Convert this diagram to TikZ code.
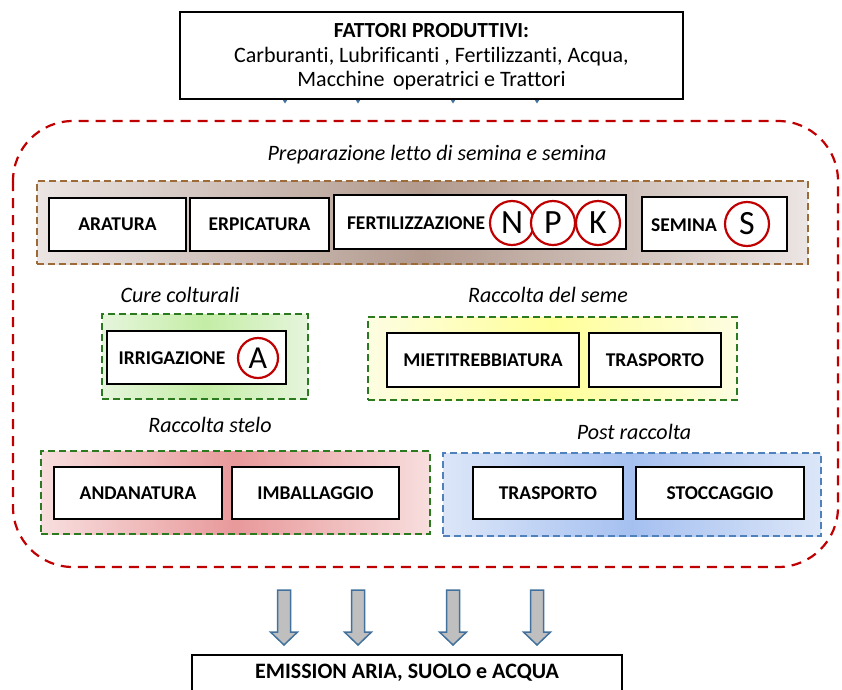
\documentclass[tikz,border=0pt]{standalone}
\usepackage{fontspec}
\setmainfont[Ligatures={NoCommon}]{Carlito}
\begin{document}
\begin{tikzpicture}[x=1pt,y=-1pt,
  box/.style={draw=black,line width=2.5pt,fill=white,inner sep=0pt,
    font=\bfseries\fontsize{19.5}{21}\selectfont},
  boxtxt/.style={inner sep=0pt,font=\bfseries\fontsize{19.5}{21}\selectfont},
  nut/.style={circle,draw=redc,line width=2.2pt,fill=white,inner sep=0pt,
    minimum size=44pt,font=\fontsize{34}{34}\selectfont},
  grp/.style={line width=1.8pt,inner sep=0pt,dash pattern=on 7pt off 4pt},
  phase/.style={font=\itshape\fontsize{22}{24}\selectfont,inner sep=0pt},
  barrow/.style={fill=arrfill,draw=arrline,line width=1.5pt},
]
\definecolor{redc}{HTML}{C00000}
\definecolor{brownb}{HTML}{9C6B37}
\definecolor{browne}{HTML}{EBE5E3}
\definecolor{brownc}{HTML}{B29A8E}
\definecolor{greenb}{HTML}{2B7A1F}
\definecolor{greene}{HTML}{E6F5DC}
\definecolor{greenc}{HTML}{C4EDA6}
\definecolor{yele}{HTML}{FDFDE2}
\definecolor{yelc}{HTML}{FFFF99}
\definecolor{pinke}{HTML}{F8DEDE}
\definecolor{pinkc}{HTML}{E8999A}
\definecolor{blueb}{HTML}{4F81BD}
\definecolor{bluee}{HTML}{DCE6F8}
\definecolor{bluec}{HTML}{A5C0F0}
\definecolor{arrfill}{HTML}{BFBFBF}
\definecolor{arrline}{HTML}{41719C}
\useasboundingbox (0,0) rectangle (842,689);

% small tips under the top box
\foreach \cx in {285,358,453,537}
  \fill[arrline] (\cx-3.5,98) -- (\cx+3.5,98) -- (\cx,103.5) -- cycle;

% top box
\node[box,minimum width=503pt,minimum height=87pt] (fattori) at (431.5,55.5) {};
\node[inner sep=0pt,align=center,font=\fontsize{22}{24.5}\selectfont] (fattoriT) at (431.5,57)
  {{\fontsize{21.5}{24.5}\selectfont\textbf{FATTORI PRODUTTIVI:}}\\Carburanti, Lubrificanti , Fertilizzanti, Acqua,\\Macchine\, operatrici e Trattori};

% big red dashed area
\draw[redc,line width=2.2pt,dash pattern=on 10pt off 7pt,rounded corners=60pt] (13,121) rectangle (838,567);

% phase labels
\node[phase] (lprep) at (437,155) {Preparazione letto di semina e semina};
\node[phase] (lcure) at (180,295) {Cure colturali};
\node[phase] (lseme) at (548,295) {Raccolta del seme};
\node[phase] (lstelo) at (210,425) {Raccolta stelo};
\node[phase] (lpost) at (634,432) {Post raccolta};

% group boxes
\node[grp,draw=brownb,left color=browne,right color=browne,middle color=brownc,
  minimum width=771pt,minimum height=83pt] (gprep) at (422.5,222.5) {};
\node[grp,draw=greenb,left color=greene,right color=greene,middle color=greenc,
  minimum width=206pt,minimum height=85pt] (gcure) at (205,356.5) {};
\node[grp,draw=greenb,left color=yele,right color=yele,middle color=yelc,
  minimum width=369pt,minimum height=83pt] (gseme) at (552.5,358.5) {};
\node[grp,draw=greenb,left color=pinke,right color=pinke,middle color=pinkc,
  minimum width=389pt,minimum height=83pt] (gstelo) at (235.5,492.5) {};
\node[grp,draw=blueb,left color=bluee,right color=bluee,middle color=bluec,
  minimum width=378pt,minimum height=83pt] (gpost) at (632,494.5) {};

% preparation boxes
\node[box,minimum width=137pt,minimum height=53pt] (aratura) at (117.5,224.5) {ARATURA};
\node[box,minimum width=139pt,minimum height=53pt] (erpic) at (259.5,224.5) {ERPICATURA};
\node[box,minimum width=292pt,minimum height=54pt] (fert) at (480,222) {};
\node[boxtxt] (fertT) at (416,223) {FERTILIZZAZIONE};
\node[nut] (N) at (512,223) {N};
\node[nut] (P) at (553,223) {P};
\node[nut] (K) at (598,223) {K};
\node[box,minimum width=145pt,minimum height=54pt] (semina) at (714.5,224) {};
\node[boxtxt] (seminaT) at (684,225) {SEMINA};
\node[nut] (S) at (747,224) {S};

% cure colturali
\node[box,minimum width=179pt,minimum height=53pt] (irrig) at (196.5,357.5) {};
\node[boxtxt] (irrigT) at (172,358) {IRRIGAZIONE};
\node[nut,minimum size=40pt,font=\fontsize{32}{32}\selectfont] (A) at (258,358) {A};

% raccolta del seme
\node[box,minimum width=192pt,minimum height=54pt] (mieti) at (483,360) {MIETITREBBIATURA};
\node[box,minimum width=132pt,minimum height=54pt] (trasp1) at (655,360) {TRASPORTO};

% raccolta stelo
\node[box,minimum width=168pt,minimum height=52pt] (andan) at (138,493) {ANDANATURA};
\node[box,minimum width=167pt,minimum height=52pt] (imball) at (315.5,493) {IMBALLAGGIO};

% post raccolta
\node[box,minimum width=150pt,minimum height=52pt] (trasp2) at (548,493) {TRASPORTO};
\node[box,minimum width=168pt,minimum height=52pt] (stocc) at (720,493) {STOCCAGGIO};

% block arrows
\foreach \cx in {284,358,453,537}
  \draw[barrow] (\cx-6.5,590) -- (\cx+6.5,590) -- (\cx+6.5,632) -- (\cx+13.5,632)
     -- (\cx,645) -- (\cx-13.5,632) -- (\cx-6.5,632) -- cycle;

% bottom box (cut by the page edge)
\fill[white] (192,655) rectangle (622,689);
\draw[black,line width=2.5pt] (192,690) -- (192,655) -- (622,655) -- (622,690);
\node[boxtxt,font=\bfseries\fontsize{22}{24}\selectfont] (emiss) at (407,673) {EMISSION ARIA, SUOLO e ACQUA};
\end{tikzpicture}
\end{document}
